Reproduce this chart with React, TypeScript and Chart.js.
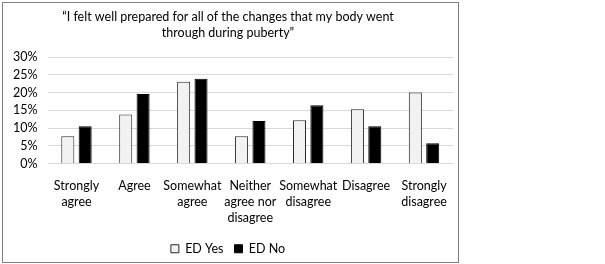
import React, { useEffect, useRef } from "react";
import { Chart, registerables } from "chart.js";

Chart.register(...registerables);

const categories: string[][] = [
  ["Strongly", "agree"],
  ["Agree"],
  ["Somewhat", "agree"],
  ["Neither", "agree nor", "disagree"],
  ["Somewhat", "disagree"],
  ["Disagree"],
  ["Strongly", "disagree"],
];
const edYes = [7.7, 13.8, 23.0, 7.7, 12.2, 15.3, 20.0];
const edNo = [10.5, 19.6, 23.9, 12.0, 16.4, 10.5, 5.7];
const titleLines = [
  "\u201CI felt well prepared for all of the changes that my body went",
  "through during puberty\u201D",
];

export default function App() {
  const ref = useRef<HTMLCanvasElement>(null);
  useEffect(() => {
    if (!ref.current) return;
    const font = "Lato, 'Open Sans', sans-serif";
    const chart = new Chart(ref.current, {
      type: "bar",
      data: {
        labels: categories,
        datasets: [
          {
            label: "ED Yes",
            data: edYes,
            backgroundColor: "#f2f2f2",
            borderColor: "#262626",
            borderWidth: 1,
            barPercentage: 0.75,
            categoryPercentage: 0.6,
          },
          {
            label: "ED No",
            data: edNo,
            backgroundColor: "#000000",
            borderColor: "#000000",
            borderWidth: 1,
            barPercentage: 0.75,
            categoryPercentage: 0.6,
          },
        ],
      },
      options: {
        animation: false,
        responsive: false,
        maintainAspectRatio: false,
        layout: { padding: { left: 0, right: 5, top: 6, bottom: -3 } },
        plugins: {
          title: {
            display: true,
            text: titleLines,
            color: "#000",
            font: { family: font, size: 12.5, weight: "normal", lineHeight: 1.28 },
            padding: { top: 0, bottom: 16 },
          },
          legend: {
            position: "bottom",
            labels: {
              color: "#000",
              font: { family: font, size: 12.5 },
              boxWidth: 8,
              boxHeight: 8,
              padding: 11,
            },
          },
          tooltip: { enabled: false },
        },
        scales: {
          x: {
            grid: { display: false },
            border: { display: false },
            ticks: {
              color: "#000",
              font: { family: font, size: 12.5, lineHeight: 1.28 },
              maxRotation: 0,
              autoSkip: false,
              padding: 6,
            },
          },
          y: {
            min: 0,
            max: 30,
            grid: { color: "#d9d9d9", drawTicks: false },
            border: { display: false },
            ticks: {
              stepSize: 5,
              autoSkip: false,
              color: "#000",
              font: { family: font, size: 12.5 },
              padding: 10,
              callback: (v: any) => v + "%",
            },
          },
        },
      },
    });
    return () => chart.destroy();
  }, []);
  return (
    <div
      style={{
        position: "fixed",
        left: 2,
        top: 2,
        width: 455,
        height: 259,
        border: "1px solid #7f7f7f",
        background: "#fff",
      }}
    >
      <canvas ref={ref} width={455} height={259} />
    </div>
  );
}
